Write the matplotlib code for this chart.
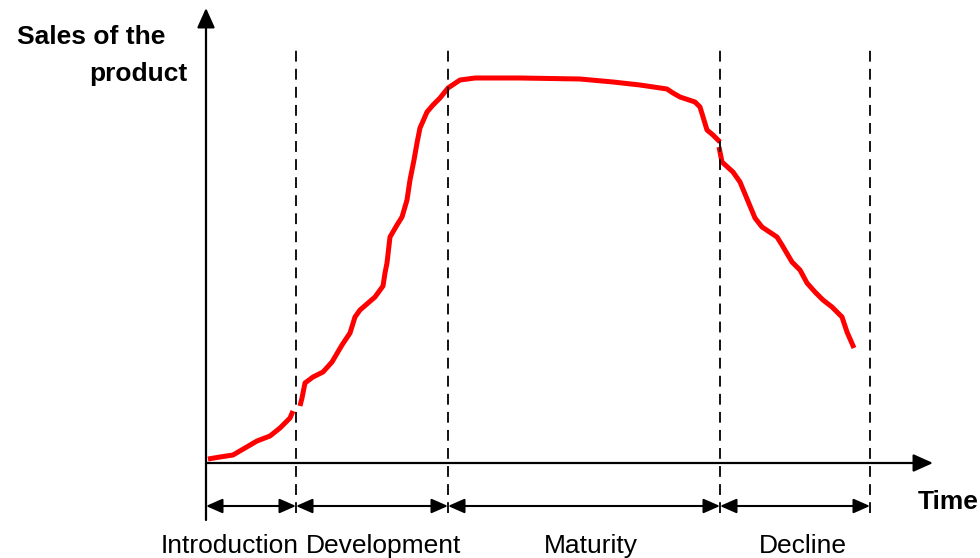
import matplotlib.pyplot as plt

plt.rcParams["font.family"] = ["Liberation Sans", "DejaVu Sans"]

# time / sales (origin at the axis corner)
intro_t = [2, 14, 27, 39, 51, 64, 74, 84, 87]
intro_s = [4, 6, 8, 15, 22, 27, 35, 45, 52]

growth_t = [94, 96, 99, 107, 117, 126, 136, 144, 149, 154, 169, 177, 179, 181, 184,
            191, 196, 201, 204, 208, 211, 214, 221, 227, 234, 242, 254, 269, 314,
            374, 407, 434, 461, 467, 474, 489, 494, 501, 507, 514]
growth_s = [57, 65, 80, 86, 91, 101, 118, 130, 146, 153, 166, 177, 190, 200, 226,
            238, 246, 263, 283, 303, 320, 335, 351, 358, 365, 375, 383, 385, 385,
            384, 381, 378, 374, 370, 366, 361, 356, 333, 328, 321]

decline_t = [513, 516, 527, 534, 549, 556, 571, 576, 586, 594, 601, 609, 617, 626,
             636, 641, 648]
decline_s = [316, 301, 291, 281, 245, 236, 226, 218, 201, 193, 180, 171, 163, 156,
             146, 131, 115]

bounds = [0, 90, 242, 514, 664]
phases = ["Introduction", "Development", "Maturity", "Decline"]
label_x = [24, 178, 385, 597]

fig = plt.figure(figsize=(9.8, 5.58), dpi=100)
ax = fig.add_axes([0, 0, 1, 1])
ax.set_xlim(-206, 774)
ax.set_ylim(-95, 463)
ax.axis("off")

red = "#ff0000"
for t, s in [(intro_t, intro_s), (growth_t, growth_s), (decline_t, decline_s)]:
    ax.plot(t, s, color=red, lw=3.6, solid_capstyle="butt", solid_joinstyle="round")

# axes with arrows
head = "-|>,head_length=0.6,head_width=0.27"
ax.annotate("", xy=(0, 455), xytext=(0, -57),
            arrowprops=dict(arrowstyle=head, color="k", lw=1.6,
                            shrinkA=0, shrinkB=0, mutation_scale=20))
ax.annotate("", xy=(727, 0), xytext=(0, 0),
            arrowprops=dict(arrowstyle=head, color="k", lw=1.6,
                            shrinkA=0, shrinkB=0, mutation_scale=20))

# phase boundaries
for b in bounds[1:]:
    ax.plot([b, b], [-50, 415], color="k", lw=1.3, ls=(0, (6, 4)))

# phase span arrows
dbl = "<|-|>,head_length=0.5,head_width=0.22"
for a, b in zip(bounds[:-1], bounds[1:]):
    ax.annotate("", xy=(b, -43), xytext=(a, -43),
                arrowprops=dict(arrowstyle=dbl, color="k", lw=1.5,
                                shrinkA=0, shrinkB=0, mutation_scale=20))

for name, x in zip(phases, label_x):
    ax.text(x, -83, name, ha="center", va="center", fontsize=19)

ax.text(-189, 426, "Sales of the", ha="left", va="center",
        fontsize=19, fontweight="bold")
ax.text(-19, 389, "product", ha="right", va="center",
        fontsize=19, fontweight="bold")
ax.text(773, -39, "Time", ha="right", va="center", fontsize=19, fontweight="bold")

fig.savefig("out.png", dpi=100)
